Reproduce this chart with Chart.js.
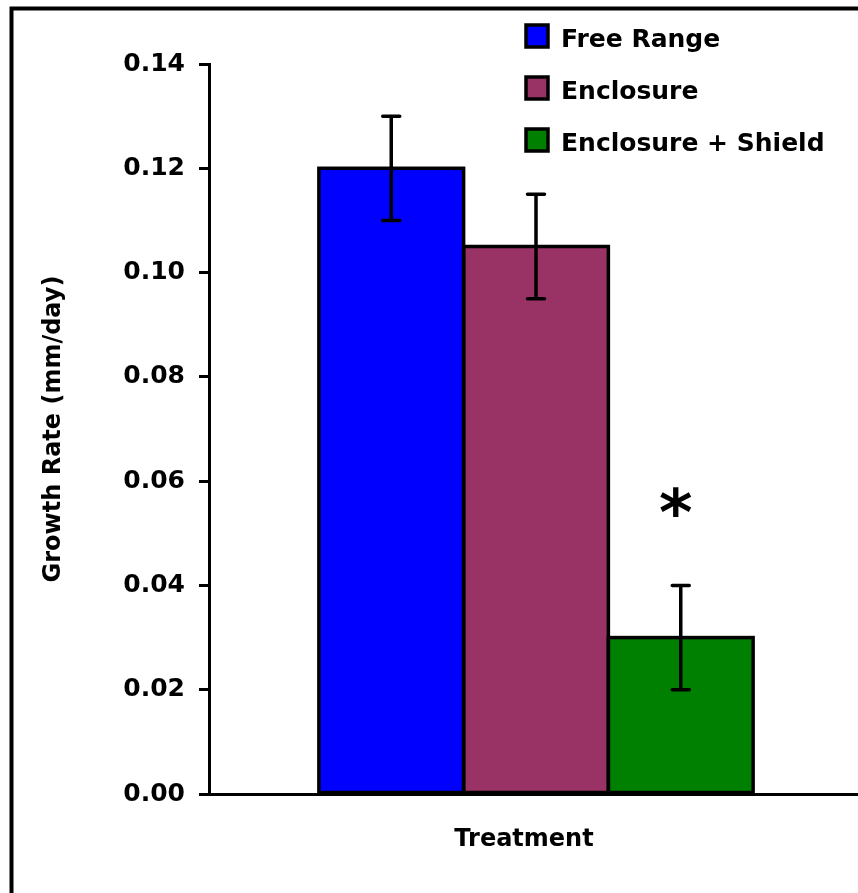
<!DOCTYPE html>
<html>
<head>
<meta charset="utf-8">
<script src="https://cdn.jsdelivr.net/npm/chart.js@4.4.1/dist/chart.umd.min.js"></script>
<style>
  html, body { margin: 0; padding: 0; overflow: hidden; background: #fff; }
  #wrap { position: relative; width: 863px; height: 893px; }
</style>
</head>
<body>
<div id="wrap"><canvas id="c"></canvas></div>
<script>
// ---- data ----
const categories = ['Treatment'];
const seriesNames = ['Free Range', 'Enclosure', 'Enclosure + Shield'];
const seriesColors = ['#0000FF', '#993366', '#008000'];
const freeRange = [0.12];
const enclosure = [0.105];
const enclosureShield = [0.03];
const errFreeRange = [0.01];
const errEnclosure = [0.01];
const errEnclosureShield = [0.01];
const yTicks = [0, 0.02, 0.04, 0.06, 0.08, 0.10, 0.12, 0.14];
const significance = { series: 2, value: 0.056, mark: '*' };

const FONT = '"DejaVu Sans", sans-serif';

const seriesValues = [freeRange, enclosure, enclosureShield];
const seriesErrors = [errFreeRange, errEnclosure, errEnclosureShield];

const datasets = seriesNames.map((n, i) => ({
  label: n,
  data: seriesValues[i],
  errors: seriesErrors[i],
  backgroundColor: seriesColors[i],
  borderWidth: 0,
  inflateAmount: 0,
  categoryPercentage: 0.664,
  barPercentage: 1.0
}));

const framePlugin = {
  id: 'frame',
  beforeDraw(chart) {
    const ctx = chart.ctx;
    ctx.save();
    ctx.fillStyle = '#fff';
    ctx.fillRect(0, 0, chart.width, chart.height);
    ctx.strokeStyle = '#000';
    ctx.lineWidth = 4;
    ctx.beginPath();
    ctx.moveTo(10, 8.5);
    ctx.lineTo(chart.width, 8.5);
    ctx.moveTo(11.5, 6.5);
    ctx.lineTo(11.5, chart.height);
    ctx.stroke();
    ctx.restore();
  }
};

const errorPlugin = {
  id: 'errorbars',
  afterDatasetsDraw(chart) {
    const ctx = chart.ctx;
    const y = chart.scales.y;
    ctx.save();
    // bar outlines (shared, centred strokes)
    ctx.strokeStyle = '#000';
    ctx.lineWidth = 3.5;
    ctx.lineJoin = 'miter';
    chart.data.datasets.forEach((ds, di) => {
      const meta = chart.getDatasetMeta(di);
      meta.data.forEach(bar => {
        const p = bar.getProps(['x', 'y', 'base', 'width'], true);
        ctx.strokeRect(p.x - p.width / 2, p.y, p.width, p.base - p.y);
      });
    });
    // error bars
    ctx.lineWidth = 3.5;
    ctx.lineCap = 'round';
    chart.data.datasets.forEach((ds, di) => {
      const meta = chart.getDatasetMeta(di);
      meta.data.forEach((bar, i) => {
        const v = ds.data[i], e = ds.errors[i];
        const x = bar.x;
        const yt = y.getPixelForValue(v + e);
        const yb = y.getPixelForValue(v - e);
        const hw = 8.5;
        ctx.beginPath();
        ctx.moveTo(x, yt); ctx.lineTo(x, yb);
        ctx.moveTo(x - hw, yt); ctx.lineTo(x + hw, yt);
        ctx.moveTo(x - hw, yb); ctx.lineTo(x + hw, yb);
        ctx.stroke();
      });
    });
    // significance mark
    const meta = chart.getDatasetMeta(significance.series);
    const bar = meta.data[0];
    ctx.fillStyle = '#000';
    ctx.font = 'bold 64px ' + FONT;
    ctx.textAlign = 'center';
    ctx.textBaseline = 'alphabetic';
    const m = ctx.measureText(significance.mark);
    const cy = y.getPixelForValue(significance.value);
    const base = cy + (m.actualBoundingBoxAscent - m.actualBoundingBoxDescent) / 2;
    ctx.fillText(significance.mark, bar.x - 5, base);
    ctx.restore();
  }
};

const legendPlugin = {
  id: 'customLegend',
  afterDraw(chart) {
    const ctx = chart.ctx;
    ctx.save();
    chart.data.datasets.forEach((ds, i) => {
      const top = 24 + i * 52;
      ctx.fillStyle = ds.backgroundColor;
      ctx.fillRect(526, top + 1, 22, 22);
      ctx.strokeStyle = '#000';
      ctx.lineWidth = 3.5;
      ctx.strokeRect(526, top + 1, 22, 22);
      ctx.fillStyle = '#000';
      ctx.font = 'bold 25px ' + FONT;
      ctx.textAlign = 'left';
      ctx.textBaseline = 'alphabetic';
      ctx.fillText(ds.label, 561, top + 23);
    });
    // x axis title
    ctx.font = 'bold 24px ' + FONT;
    ctx.textAlign = 'center';
    ctx.fillText(categories[0], 524, 846);
    ctx.restore();
  }
};

new Chart(document.getElementById('c'), {
  type: 'bar',
  data: { labels: categories, datasets },
  options: {
    responsive: true,
    maintainAspectRatio: false,
    animation: false,
    layout: { padding: { top: 64, left: 0, right: 0, bottom: 0 } },
    plugins: {
      legend: { display: false },
      tooltip: { enabled: false }
    },
    scales: {
      x: {
        grid: { display: false, drawTicks: false },
        border: { display: true, color: '#000', width: 3 },
        ticks: { display: false },
        afterFit(s) { s.height = 99; }
      },
      y: {
        min: 0,
        max: 0.14,
        afterBuildTicks(s) { s.ticks = yTicks.map(v => ({ value: v })); },
        grid: { drawOnChartArea: false, drawTicks: true, tickLength: 10, tickWidth: 3, tickColor: '#000', color: '#000', lineWidth: 3 },
        border: { display: true, color: '#000', width: 3 },
        ticks: {
          padding: 14,
          color: '#000',
          font: { family: FONT, size: 25, weight: 'bold' },
          callback: v => Number(v).toFixed(2)
        },
        title: {
          display: true,
          text: 'Growth Rate (mm/day)',
          color: '#000',
          font: { family: FONT, size: 24, weight: 'bold' },
          padding: { top: 39, bottom: 0 }
        },
        afterFit(s) { s.width = 209; }
      }
    }
  },
  plugins: [framePlugin, errorPlugin, legendPlugin]
});
</script>
</body>
</html>
